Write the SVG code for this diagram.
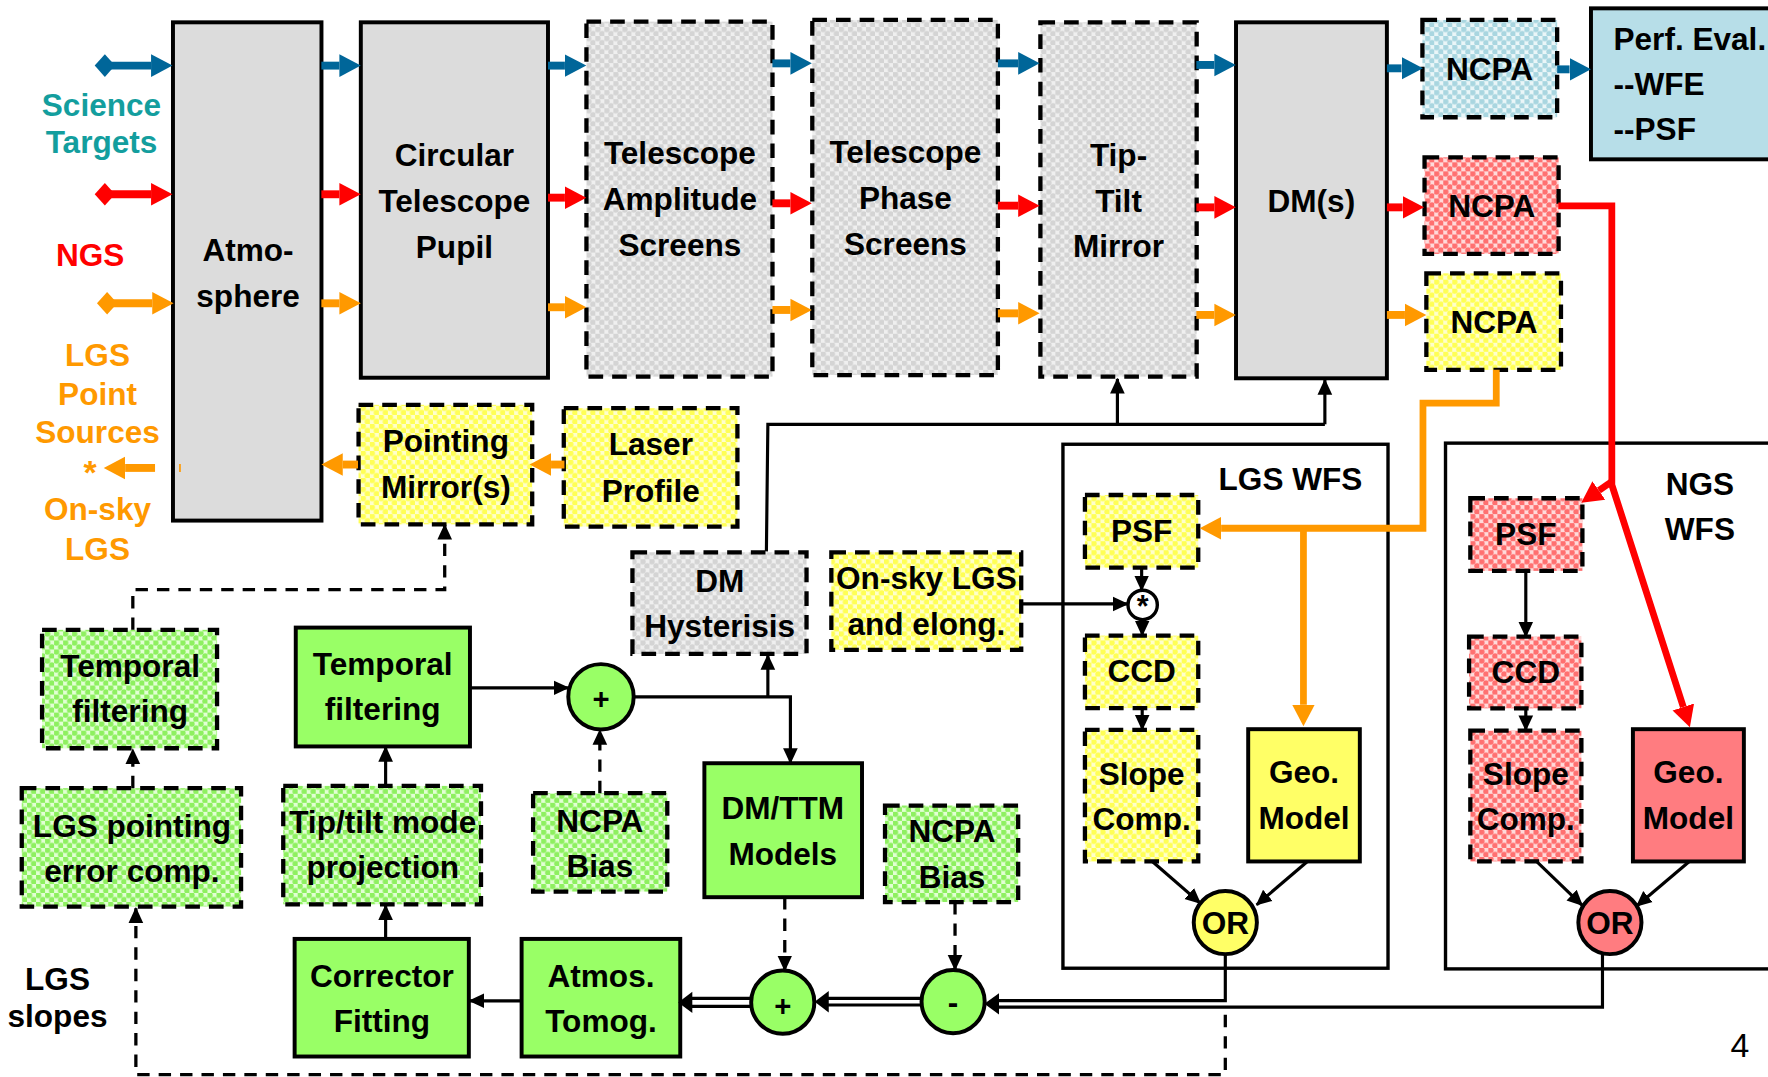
<svg xmlns="http://www.w3.org/2000/svg" width="1768" height="1077" viewBox="0 0 1768 1077">
<style>
.t{font-family:"Liberation Sans",Arial,sans-serif;font-weight:bold;font-size:28px;fill:#000;text-anchor:middle}
.l{text-anchor:start}
.teal{fill:#139e9e}.red{fill:#ff0000}.org{fill:#ff9900}
.sb{stroke:#000;stroke-width:3.5}
.db{stroke:#000;stroke-width:3.8;stroke-dasharray:13 8}
.ct{fill:none;stroke:#000;stroke-width:3}
.c{fill:none;stroke:#000;stroke-width:2.8}
.cd{fill:none;stroke:#000;stroke-width:2.9;stroke-dasharray:11 8}
.ab{fill:none;stroke:#006699;stroke-width:7}
.ar{fill:none;stroke:#ff0000;stroke-width:7}
.ao{fill:none;stroke:#ff9900;stroke-width:7}
.lr{fill:none;stroke:#ff0000;stroke-width:6;stroke-linejoin:miter}
.lo{fill:none;stroke:#ff9900;stroke-width:6;stroke-linejoin:miter}
.gray{fill:#dcdcdc}.grn{fill:#99ff66}.yel{fill:#ffff66}.pnk{fill:#ff7c80}.tea{fill:#b7dee8}
</style>
<defs>
<pattern id="pGray" patternUnits="userSpaceOnUse" width="8" height="8"><rect width="8" height="8" fill="#efefef"/><circle cx="2" cy="2" r="2.6" fill="#d4d4d4"/><circle cx="6" cy="6" r="2.6" fill="#d4d4d4"/></pattern>
<pattern id="pYel" patternUnits="userSpaceOnUse" width="8" height="8"><rect width="8" height="8" fill="#ffffcc"/><circle cx="2" cy="2" r="2.6" fill="#ffff55"/><circle cx="6" cy="6" r="2.6" fill="#ffff55"/></pattern>
<pattern id="pRed" patternUnits="userSpaceOnUse" width="8" height="8"><rect width="8" height="8" fill="#ffdada"/><circle cx="2" cy="2" r="2.6" fill="#ff7070"/><circle cx="6" cy="6" r="2.6" fill="#ff7070"/></pattern>
<pattern id="pGrn" patternUnits="userSpaceOnUse" width="8" height="8"><rect width="8" height="8" fill="#e2ffd4"/><circle cx="2" cy="2" r="2.6" fill="#8ef060"/><circle cx="6" cy="6" r="2.6" fill="#8ef060"/></pattern>
<pattern id="pBlu" patternUnits="userSpaceOnUse" width="8" height="8"><rect width="8" height="8" fill="#eaf6f8"/><circle cx="2" cy="2" r="2.6" fill="#a9d6e0"/><circle cx="6" cy="6" r="2.6" fill="#a9d6e0"/></pattern>
<marker id="hB" markerUnits="userSpaceOnUse" viewBox="0 -11 20 22" markerWidth="20" markerHeight="22" refX="0" refY="0" orient="auto"><path d="M0,-10 L19,0 L0,10 Z" fill="#006699"/></marker>
<marker id="hR" markerUnits="userSpaceOnUse" viewBox="0 -11 20 22" markerWidth="20" markerHeight="22" refX="0" refY="0" orient="auto"><path d="M0,-10 L19,0 L0,10 Z" fill="#ff0000"/></marker>
<marker id="hO" markerUnits="userSpaceOnUse" viewBox="0 -11 20 22" markerWidth="20" markerHeight="22" refX="0" refY="0" orient="auto"><path d="M0,-10 L19,0 L0,10 Z" fill="#ff9900"/></marker>
<marker id="dB" markerUnits="userSpaceOnUse" viewBox="-11 -11 22 22" markerWidth="22" markerHeight="22" refX="0" refY="0" orient="auto"><path d="M-9,0 L0,-10 L9,0 L0,10 Z" fill="#006699"/></marker>
<marker id="dR" markerUnits="userSpaceOnUse" viewBox="-11 -11 22 22" markerWidth="22" markerHeight="22" refX="0" refY="0" orient="auto"><path d="M-9,0 L0,-10 L9,0 L0,10 Z" fill="#ff0000"/></marker>
<marker id="dO" markerUnits="userSpaceOnUse" viewBox="-11 -11 22 22" markerWidth="22" markerHeight="22" refX="0" refY="0" orient="auto"><path d="M-9,0 L0,-10 L9,0 L0,10 Z" fill="#ff9900"/></marker>
<marker id="k" markerUnits="userSpaceOnUse" viewBox="0 -8 15 16" markerWidth="15" markerHeight="16" refX="13" refY="0" orient="auto"><path d="M0,-6.5 L14,0 L0,6.5 Z" fill="#000"/></marker>
</defs>
<rect x="0" y="0" width="1768" height="1077" fill="#fff"/>
<g transform="scale(1.12755)">

<g id="labels">
<text class="t teal" x="90" y="102.6">Science</text>
<text class="t teal" x="90" y="136">Targets</text>
<text class="t red" x="80" y="235.6">NGS</text>
<text class="t org" x="86.5" y="324.3">LGS</text>
<text class="t org" x="86.5" y="359">Point</text>
<text class="t org" x="86.5" y="393">Sources</text>
<text class="t org" x="80" y="429" style="font-size:30px">*</text>
<text class="t org" x="86.5" y="461">On-sky</text>
<text class="t org" x="86.5" y="496.6">LGS</text>
<text class="t" x="51" y="878">LGS</text>
<text class="t" x="51" y="911">slopes</text>
<text x="1543" y="937" style="font-family:'Liberation Sans',Arial,sans-serif;font-size:30px;text-anchor:middle;fill:#000">4</text>
</g>

<g id="atmosphere"><rect class="sb gray" x="153.4" y="19.8" width="131.7" height="441.9"/><line x1="159.6" y1="411.5" x2="159.6" y2="418.5" stroke="#ff9900" stroke-width="1.5"/><text class="t" x="220" y="231.5">Atmo-</text><text class="t" x="220" y="272">sphere</text></g>
<g id="pupil"><rect class="sb gray" x="320" y="19.8" width="166" height="315.2"/><text class="t" x="403" y="147">Circular</text><text class="t" x="403" y="188">Telescope</text><text class="t" x="403" y="229">Pupil</text></g>
<g id="amplitude"><rect class="db" fill="url(#pGray)" x="520.1" y="19.2" width="165" height="314.8"/><text class="t" x="603" y="145.7">Telescope</text><text class="t" x="603" y="186.2">Amplitude</text><text class="t" x="603" y="227">Screens</text></g>
<g id="phase"><rect class="db" fill="url(#pGray)" x="720.4" y="17.7" width="164.6" height="314.9"/><text class="t" x="803" y="144.9">Telescope</text><text class="t" x="803" y="185.6">Phase</text><text class="t" x="803" y="226.1">Screens</text></g>
<g id="ttm"><rect class="db" fill="url(#pGray)" x="922.7" y="19.8" width="138.6" height="314.2"/><text class="t" x="992" y="147">Tip-</text><text class="t" x="992" y="187.7">Tilt</text><text class="t" x="992" y="227.6">Mirror</text></g>
<g id="dms"><rect class="sb gray" x="1096.2" y="19.8" width="133.8" height="315.7"/><text class="t" x="1163" y="187.7">DM(s)</text></g>
<g id="ncpa-sci"><rect class="db" fill="url(#pBlu)" x="1261.5" y="17.7" width="119.5" height="86.3"/><text class="t" x="1321" y="71">NCPA</text></g>
<g id="ncpa-ngs"><rect class="db" fill="url(#pRed)" x="1263.4" y="139.5" width="118.9" height="85.7"/><text class="t" x="1323" y="192.7">NCPA</text></g>
<g id="ncpa-lgs"><rect class="db" fill="url(#pYel)" x="1265" y="242.4" width="119.4" height="85.7"/><text class="t" x="1325" y="295">NCPA</text></g>
<g id="perf"><rect class="sb tea" x="1411" y="7.4" width="200" height="133.9"/><text class="t l" x="1431" y="44.3">Perf. Eval.</text><text class="t l" x="1431" y="84.2">--WFE</text><text class="t l" x="1431" y="124.2">--PSF</text></g>

<g id="pointing"><rect class="db" fill="url(#pYel)" x="318" y="359" width="154" height="106"/><text class="t" x="395.4" y="400.5">Pointing</text><text class="t" x="395.4" y="441.9">Mirror(s)</text></g>
<g id="laser"><rect class="db" fill="url(#pYel)" x="500" y="362" width="154" height="105"/><text class="t" x="577.2" y="403.5">Laser</text><text class="t" x="577.2" y="444.9">Profile</text></g>
<g id="hysteresis"><rect class="db" fill="url(#pGray)" x="560.9" y="489.8" width="154.4" height="90.2"/><text class="t" x="638.3" y="524.7">DM</text><text class="t" x="638.3" y="564.6">Hysterisis</text></g>
<g id="onsky"><rect class="db" fill="url(#pYel)" x="737.3" y="489.8" width="168.4" height="86.6"/><text class="t" x="821.6" y="522.3">On-sky LGS</text><text class="t" x="821.6" y="563.1">and elong.</text></g>

<g id="lgs-wfs"><rect class="ct" x="942.7" y="394" width="288.3" height="464.7"/><text class="t" x="1144.5" y="434.5">LGS WFS</text></g>
<g id="lgs-psf"><rect class="db" fill="url(#pYel)" x="962.2" y="439" width="100.5" height="64.4"/><text class="t" x="1012.5" y="480.3">PSF</text></g>
<g id="conv"><circle cx="1013.4" cy="536.5" r="13" fill="#fff" stroke="#000" stroke-width="3"/><text class="t" x="1013.4" y="547" style="font-size:27px">*</text></g>
<g id="lgs-ccd"><rect class="db" fill="url(#pYel)" x="962.2" y="563.7" width="100.5" height="64.3"/><text class="t" x="1012.5" y="605">CCD</text></g>
<g id="lgs-slope"><rect class="db" fill="url(#pYel)" x="962.2" y="647.3" width="100.5" height="116.7"/><text class="t" x="1012.5" y="696.1">Slope</text><text class="t" x="1012.5" y="736">Comp.</text></g>
<g id="lgs-geo"><rect class="sb yel" x="1107" y="646.7" width="99" height="117.3"/><text class="t" x="1156.5" y="694.6">Geo.</text><text class="t" x="1156.5" y="735.4">Model</text></g>
<g id="lgs-or"><circle class="sb yel" cx="1086.7" cy="818.2" r="28"/><text class="t" x="1086.7" y="828.2">OR</text></g>

<g id="ngs-wfs"><rect class="ct" x="1282" y="393" width="320" height="466.3"/><text class="t" x="1507.6" y="439">NGS</text><text class="t" x="1507.6" y="478.9">WFS</text></g>
<g id="ngs-psf"><rect class="db" fill="url(#pRed)" x="1304" y="441.9" width="99.4" height="64.4"/><text class="t" x="1353.2" y="483.3">PSF</text></g>
<g id="ngs-ccd"><rect class="db" fill="url(#pRed)" x="1302.9" y="564.6" width="99.6" height="63.6"/><text class="t" x="1353.2" y="606">CCD</text></g>
<g id="ngs-slope"><rect class="db" fill="url(#pRed)" x="1304" y="648" width="98.5" height="116"/><text class="t" x="1353.2" y="696.1">Slope</text><text class="t" x="1353.2" y="736">Comp.</text></g>
<g id="ngs-geo"><rect class="sb pnk" x="1448.2" y="646.7" width="98.4" height="117.3"/><text class="t" x="1497.4" y="694.6">Geo.</text><text class="t" x="1497.4" y="735.4">Model</text></g>
<g id="ngs-or"><circle class="sb pnk" cx="1427.8" cy="818.2" r="28"/><text class="t" x="1427.8" y="828.2">OR</text></g>

<g id="temporal-lgs"><rect class="db" fill="url(#pGrn)" x="37.3" y="558.6" width="155.2" height="105"/><text class="t" x="115.4" y="600">Temporal</text><text class="t" x="115.4" y="640">filtering</text></g>
<g id="temporal"><rect class="sb grn" x="262.3" y="556.6" width="154.5" height="105.4"/><text class="t" x="339.4" y="598.6">Temporal</text><text class="t" x="339.4" y="638.5">filtering</text></g>
<g id="sum1"><circle class="sb grn" cx="533" cy="618" r="29"/><text class="t" x="533" y="628.5" style="font-size:26px">+</text></g>
<g id="lgs-pointing"><rect class="db" fill="url(#pGrn)" x="19.3" y="699" width="194.5" height="105"/><text class="t" x="117" y="742">LGS pointing</text><text class="t" x="117" y="781.8">error comp.</text></g>
<g id="tiptilt"><rect class="db" fill="url(#pGrn)" x="251.2" y="697" width="175.4" height="105"/><text class="t" x="339.4" y="739">Tip/tilt mode</text><text class="t" x="339.4" y="778.9">projection</text></g>
<g id="ncpa-bias-1"><rect class="db" fill="url(#pGrn)" x="472.8" y="703.5" width="119" height="87.2"/><text class="t" x="532" y="737.5">NCPA</text><text class="t" x="532" y="777.4">Bias</text></g>
<g id="dmttm"><rect class="sb grn" x="624.7" y="676.9" width="139.8" height="118.8"/><text class="t" x="694.2" y="726.3">DM/TTM</text><text class="t" x="694.2" y="767">Models</text></g>
<g id="ncpa-bias-2"><rect class="db" fill="url(#pGrn)" x="784.9" y="714.4" width="118.1" height="85.6"/><text class="t" x="844.3" y="746.4">NCPA</text><text class="t" x="844.3" y="787.2">Bias</text></g>
<g id="corrector"><rect class="sb grn" x="261.3" y="832.7" width="154.5" height="104.3"/><text class="t" x="338.7" y="875">Corrector</text><text class="t" x="338.7" y="915.7">Fitting</text></g>
<g id="tomog"><rect class="sb grn" x="462.6" y="832.7" width="140.7" height="104.3"/><text class="t" x="533" y="875">Atmos.</text><text class="t" x="533" y="915.7">Tomog.</text></g>
<g id="sum2"><circle class="sb grn" cx="694.2" cy="888.8" r="28"/><text class="t" x="694.2" y="901" style="font-size:26px">+</text></g>
<g id="diff"><circle class="sb grn" cx="845.3" cy="888.3" r="28"/><text class="t" x="845.3" y="898">-</text></g>

<g id="connectors">
<path class="ab" d="M93,58.2 H134" marker-start="url(#dB)" marker-end="url(#hB)"/>
<path class="ab" d="M285,58.2 H301" marker-end="url(#hB)"/>
<path class="ab" d="M486,58.2 H501" marker-end="url(#hB)"/>
<path class="ab" d="M685,56.2 H701" marker-end="url(#hB)"/>
<path class="ab" d="M885,56.2 H903" marker-end="url(#hB)"/>
<path class="ab" d="M1061,57.6 H1077" marker-end="url(#hB)"/>
<path class="ab" d="M1230,60.6 H1243" marker-end="url(#hB)"/>
<path class="ab" d="M1381,61.5 H1392" marker-end="url(#hB)"/>
<path class="ar" d="M93,172.3 H134" marker-start="url(#dR)" marker-end="url(#hR)"/>
<path class="ar" d="M285,172.3 H301" marker-end="url(#hR)"/>
<path class="ar" d="M486,175.3 H501" marker-end="url(#hR)"/>
<path class="ar" d="M685,180.3 H701" marker-end="url(#hR)"/>
<path class="ar" d="M885,182.4 H903" marker-end="url(#hR)"/>
<path class="ar" d="M1061,183.9 H1077" marker-end="url(#hR)"/>
<path class="ar" d="M1230,183.9 H1244" marker-end="url(#hR)"/>
<path class="ao" d="M95,269 H135" marker-start="url(#dO)" marker-end="url(#hO)"/>
<path class="ao" d="M285,269 H301" marker-end="url(#hO)"/>
<path class="ao" d="M486,272.5 H501" marker-end="url(#hO)"/>
<path class="ao" d="M685,274.9 H701" marker-end="url(#hO)"/>
<path class="ao" d="M885,277.9 H903" marker-end="url(#hO)"/>
<path class="ao" d="M1061,279.3 H1077" marker-end="url(#hO)"/>
<path class="ao" d="M1230,279.3 H1246" marker-end="url(#hO)"/>
<path class="ao" d="M500.6,412 H488.7" marker-end="url(#hO)"/>
<path class="ao" d="M317.5,412 H304" marker-end="url(#hO)"/>
<path class="ao" d="M137.5,415 H111" marker-end="url(#hO)"/>
<path class="lo" d="M1327,328 V357.5 H1262 V468.5 H1083" marker-end="url(#hO)"/>
<path class="lo" d="M1156,468.5 V625" marker-end="url(#hO)"/>
<path class="lr" d="M1382,182.5 H1429.5 V430 L1492.9,627" marker-end="url(#hR)"/>
<path class="lr" d="M1429.5,427 L1418,435" marker-end="url(#hR)"/>
<path class="c" d="M679.7,489 L681,376.3 H1175"/>
<path class="c" d="M991,376.3 V336" marker-end="url(#k)"/>
<path class="c" d="M1175,376.3 V337" marker-end="url(#k)"/>
<path class="c" d="M562,618 H701 V676.5" marker-end="url(#k)"/>
<path class="c" d="M681,618 V581" marker-end="url(#k)"/>
<path class="c" d="M417,610 H504" marker-end="url(#k)"/>
<path class="c" d="M906,535.6 H1000" marker-end="url(#k)"/>
<path class="c" d="M1012.5,503.5 V523.5" marker-end="url(#k)"/>
<path class="c" d="M1013,549.5 V563.5" marker-end="url(#k)"/>
<path class="c" d="M1013,628 V647" marker-end="url(#k)"/>
<path class="c" d="M1353.2,506.3 V564.5" marker-end="url(#k)"/>
<path class="c" d="M1353.2,628.2 V647.5" marker-end="url(#k)"/>
<path class="c" d="M1022,764 L1064.5,801" marker-end="url(#k)"/>
<path class="c" d="M1159.5,764 L1114.5,802.5" marker-end="url(#k)"/>
<path class="c" d="M1362.7,764 L1403.2,802.9" marker-end="url(#k)"/>
<path class="c" d="M1498.2,764 L1451.6,803.5" marker-end="url(#k)"/>
<path class="c" d="M1086.7,846.5 V887.4 H884"/>
<path class="c" d="M1421.2,846.5 V893.2 H884"/>
<path d="M873,890.3 L886,880.8 L886,899.8 Z" fill="#000"/>
<path class="c" d="M817,885.4 H733"/>
<path class="c" d="M817,891.3 H733"/>
<path d="M722.5,888.4 L735,878.9 L735,897.9 Z" fill="#000"/>
<path class="c" d="M666,885.4 H611"/>
<path class="c" d="M666,892.5 H611"/>
<path d="M601.5,889 L614,879.5 L614,898.5 Z" fill="#000"/>
<path class="c" d="M462.6,887.6 H416.5" marker-end="url(#k)"/>
<path class="c" d="M342,832.7 V803" marker-end="url(#k)"/>
<path class="c" d="M342,697 V662.5" marker-end="url(#k)"/>
<path class="cd" d="M696,795.7 V860.5" marker-end="url(#k)"/>
<path class="cd" d="M847,800 V860" marker-end="url(#k)"/>
<path class="cd" d="M532,703.5 V647.5" marker-end="url(#k)"/>
<path class="cd" d="M117.8,558.6 V523 H394.4 V465.5" marker-end="url(#k)"/>
<path class="cd" d="M117.8,699 V664.5" marker-end="url(#k)"/>
<path class="cd" d="M1086.7,900 V953 H120.5 V805.5" marker-end="url(#k)"/>
</g>
</g>
</svg>
